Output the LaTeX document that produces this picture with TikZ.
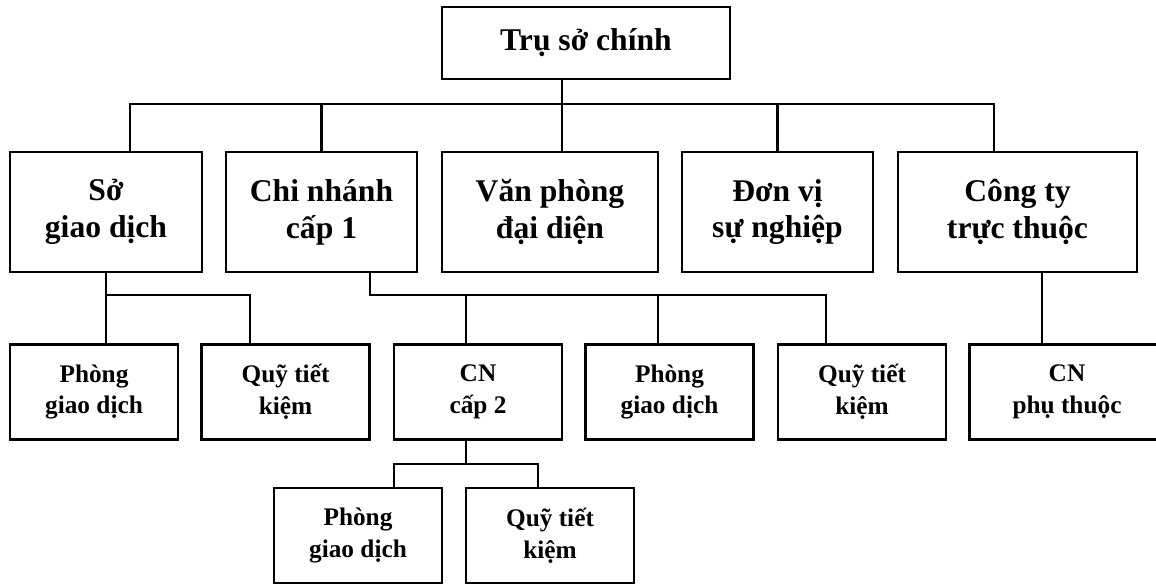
\documentclass[tikz,border=0pt]{standalone}
\usepackage{fontspec}
\setmainfont{Liberation Serif}
\tikzset{
    org box/.style={draw=black, line width=1.25pt, inner sep=0pt,
                    minimum height=2.4cm, minimum width=3.82cm,
                    align=center,
                    font=\bfseries\fontsize{18}{21}\selectfont},
    org top/.style={org box, minimum height=1.44cm, minimum width=5.76cm},
    org unit/.style={org box, minimum height=1.9cm, minimum width=3.36cm,
                     font=\bfseries\fontsize{14.4}{18}\selectfont},
    org line/.style={line width=1.25pt, line cap=rect},
}

\begin{document}
\begin{tikzpicture}[x=0.02cm, y=-0.02cm]
    \useasboundingbox (0,0) rectangle (1156,584);
    % Head office
    \node[org top] (hq) at (586,43) {Trụ sở chính};
    % Level 1
    \node[org box, minimum width=3.84cm] (so) at (106,212) {Sở\\giao dịch};
    \node[org box] (chinhanh) at (321.5,212) {Chi nhánh\\cấp 1};
    \node[org box, minimum width=4.32cm] (vanphong) at (550,212) {Văn phòng\\đại diện};
    \node[org box] (donvi) at (777.5,212) {Đơn vị\\sự nghiệp};
    \node[org box, minimum width=4.78cm] (congty) at (1017.5,212) {Công ty\\trực thuộc};
    % Level 2
    \node[org unit] (pgd1) at (94,392) {Phòng\\giao dịch};
    \node[org unit] (qtk1) at (285.5,392) {Quỹ tiết\\kiệm};
    \node[org unit] (cn2) at (478,392) {CN\\cấp 2};
    \node[org unit] (pgd2) at (669.5,392) {Phòng\\giao dịch};
    \node[org unit] (qtk2) at (862,392) {Quỹ tiết\\kiệm};
    \node[org unit, minimum width=3.9cm] (cnpt) at (1067,392) {CN\\phụ thuộc};
    % Level 3
    \node[org unit] (pgd3) at (358,535.5) {Phòng\\giao dịch};
    \node[org unit] (qtk3) at (550,535.5) {Quỹ tiết\\kiệm};

    % Bus points
    \coordinate (hq bus) at (562,104);
    \coordinate (bus l) at (130,104);
    \coordinate (bus r) at (994,104);
    \coordinate (so bus l) at (106,295);
    \coordinate (so bus r) at (250,295);
    \coordinate (cn bus l) at (370,295);
    \coordinate (cn bus m) at (466,295);
    \coordinate (cn bus n) at (658,295);
    \coordinate (cn bus r) at (826,295);
    \coordinate (ct drop) at (1042,300);
    \coordinate (cn2 bus) at (466,464);
    \coordinate (cn2 bus l) at (394,464);
    \coordinate (cn2 bus r) at (538,464);

    % Head office to level 1
    \draw[org line] (hq.south -| hq bus) -- (hq bus);
    \draw[org line] (bus l) -- (bus r);
    \draw[org line] (bus l) -- (bus l |- so.north);
    \draw[org line] (chinhanh.north |- bus l) -- (chinhanh.north);
    \draw[org line] (hq bus) -- (hq bus |- vanphong.north);
    \draw[org line] (donvi.north |- bus l) -- (donvi.north);
    \draw[org line] (bus r) -- (bus r |- congty.north);
    % So giao dich
    \draw[org line] (so.south) -- (so bus l) -- (so bus r);
    \draw[org line] (so bus l) -- (so bus l |- pgd1.north);
    \draw[org line] (so bus r) -- (so bus r |- qtk1.north);
    % Chi nhanh cap 1
    \draw[org line] (chinhanh.south -| cn bus l) -- (cn bus l) -- (cn bus r);
    \draw[org line] (cn bus m) -- (cn bus m |- cn2.north);
    \draw[org line] (cn bus n) -- (cn bus n |- pgd2.north);
    \draw[org line] (cn bus r) -- (cn bus r |- qtk2.north);
    % Cong ty truc thuoc
    \draw[org line] (congty.south -| ct drop) -- (ct drop |- cnpt.north);
    % CN cap 2
    \draw[org line] (cn2.south -| cn2 bus) -- (cn2 bus);
    \draw[org line] (cn2 bus l) -- (cn2 bus r);
    \draw[org line] (cn2 bus l) -- (cn2 bus l |- pgd3.north);
    \draw[org line] (cn2 bus r) -- (cn2 bus r |- qtk3.north);
\end{tikzpicture}
\end{document}
